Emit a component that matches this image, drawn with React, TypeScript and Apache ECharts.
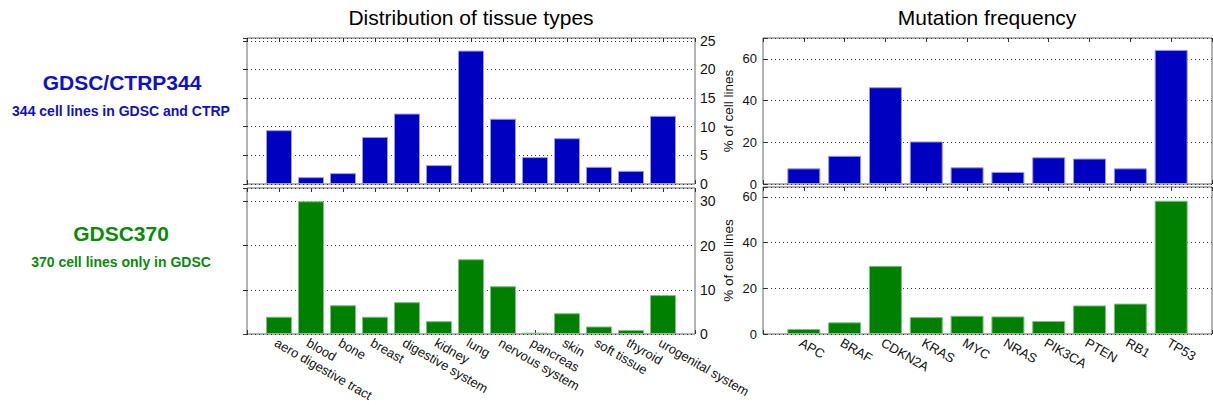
import React, { useEffect, useRef } from "react";
import * as echarts from "echarts";

const tissueTypes = [
  "aero digestive tract", "blood", "bone", "breast", "digestive system", "kidney",
  "lung", "nervous system", "pancreas", "skin", "soft tissue", "thyroid", "urogenital system",
];
const tissueCTRP344 = [9.4, 1.2, 1.9, 8.2, 12.3, 3.3, 23.3, 11.4, 4.7, 8.0, 3.0, 2.3, 11.9];
const tissueGDSC370 = [3.9, 30.0, 6.5, 3.9, 7.2, 2.9, 16.9, 10.8, 0.3, 4.7, 1.7, 0.9, 8.8];

const genes = ["APC", "BRAF", "CDKN2A", "KRAS", "MYC", "NRAS", "PIK3CA", "PTEN", "RB1", "TP53"];
const mutCTRP344 = [7.5, 13.5, 46.4, 20.4, 8.0, 5.8, 12.8, 12.2, 7.5, 64.3];
const mutGDSC370 = [2.2, 5.1, 29.8, 7.4, 8.0, 7.7, 5.7, 12.5, 13.3, 58.3];

const BLUE = "#0000C0";
const GREEN = "#008000";
const FONT = "'Liberation Sans', Arial, Helvetica, sans-serif";

export default function App() {
  const ref = useRef<HTMLDivElement>(null);
  useEffect(() => {
    if (!ref.current) return;
    const chart = echarts.init(ref.current, undefined, { renderer: "svg" });

    const grids = [
      { left: 247, top: 38, width: 448, height: 146 },
      { left: 247, top: 188, width: 448, height: 146 },
      { left: 763, top: 38, width: 449, height: 146 },
      { left: 763, top: 187, width: 449, height: 147 },
    ];
    const panels = [
      { names: tissueTypes, values: tissueCTRP344, max: 25.5, interval: 5, color: BLUE, edge: "#9a9ae8", labels: false, ySide: "right", barW: 26, yFont: 14 },
      { names: tissueTypes, values: tissueGDSC370, max: 33, interval: 10, color: GREEN, edge: "#80c080", labels: true, ySide: "right", barW: 26, yFont: 14 },
      { names: genes, values: mutCTRP344, max: 70, interval: 20, color: BLUE, edge: "#9a9ae8", labels: false, ySide: "left", barW: 33, yFont: 13 },
      { names: genes, values: mutGDSC370, max: 64.3, interval: 20, color: GREEN, edge: "#80c080", labels: true, ySide: "left", barW: 33, yFont: 13 },
    ];

    const xAxis: any[] = [];
    const yAxis: any[] = [];
    const series: any[] = [];
    panels.forEach((p, i) => {
      const n = p.names.length;
      const base = {
        gridIndex: i,
        type: "value",
        min: 0,
        max: n + 1,
        interval: 1,
        axisLine: { show: false },
        axisTick: { show: true, inside: true, length: 4, lineStyle: { color: "#333", width: 1 } },
        splitLine: { show: false },
      };
      xAxis.push({
        ...base,
        position: "bottom",
        axisLabel: {
          show: p.labels,
          rotate: -30,
          align: "left",
          verticalAlign: "top",
          margin: 2,
          fontSize: 13,
          fontFamily: FONT,
          color: "#111",
          formatter: (v: number) => (v >= 1 && v <= n ? p.names[v - 1] : ""),
        },
      });
      xAxis.push({ ...base, position: "top", axisLabel: { show: false } });
      yAxis.push({
        gridIndex: i,
        type: "value",
        position: p.ySide,
        min: 0,
        max: p.max,
        interval: p.interval,
        axisLine: { show: false },
        axisTick: { show: true, inside: true, length: 4, lineStyle: { color: "#333" } },
        splitLine: { show: true, lineStyle: { type: [1, 3], color: "#333", width: 1 } },
        axisLabel: {
          margin: p.ySide === "right" ? 5 : 6,
          fontSize: p.yFont,
          fontFamily: FONT,
          color: "#111",
          formatter: (v: number) => (v % p.interval === 0 ? String(v) : ""),
        },
        name: p.ySide === "left" ? "% of cell lines" : "",
        nameLocation: "middle",
        nameRotate: 90,
        nameGap: 28,
        nameTextStyle: { fontSize: 13.5, fontFamily: FONT, color: "#111" },
      });
      series.push({
        type: "bar",
        xAxisIndex: i * 2,
        yAxisIndex: i,
        barWidth: p.barW,
        itemStyle: { color: p.color, borderColor: p.edge, borderWidth: 1 },
        data: p.values.map((v, k) => [k + 1, v]),
      });
    });

    chart.setOption({
      animation: false,
      backgroundColor: "#fff",
      grid: grids.map((g) => ({
        ...g,
        outerBoundsMode: "none",
        containLabel: false,
        show: true,
        borderColor: "#666",
        borderWidth: 1,
        backgroundColor: "transparent",
      })),
      xAxis,
      yAxis,
      series,
      graphic: [
        { type: "text", x: 471, y: 17, style: { text: "Distribution of tissue types", fontSize: 21, fontFamily: FONT, fill: "#000", textAlign: "center", textVerticalAlign: "middle" } },
        { type: "text", x: 987, y: 17, style: { text: "Mutation frequency", fontSize: 21, fontFamily: FONT, fill: "#000", textAlign: "center", textVerticalAlign: "middle" } },
        { type: "text", x: 122, y: 82, style: { text: "GDSC/CTRP344", fontSize: 21, fontWeight: "bold", fontFamily: FONT, fill: "#1010C8", textAlign: "center", textVerticalAlign: "middle" } },
        { type: "text", x: 121, y: 111, style: { text: "344 cell lines in GDSC and CTRP", fontSize: 14, fontWeight: "bold", fontFamily: FONT, fill: "#1010C8", textAlign: "center", textVerticalAlign: "middle" } },
        { type: "text", x: 121, y: 233, style: { text: "GDSC370", fontSize: 21, fontWeight: "bold", fontFamily: FONT, fill: "#0A8A0A", textAlign: "center", textVerticalAlign: "middle" } },
        { type: "text", x: 121, y: 262, style: { text: "370 cell lines only in GDSC", fontSize: 14, fontWeight: "bold", fontFamily: FONT, fill: "#0A8A0A", textAlign: "center", textVerticalAlign: "middle" } },
      ],
    });
    return () => chart.dispose();
  }, []);
  return <div ref={ref} style={{ position: "absolute", left: 0, top: 0, width: 1213, height: 405 }} />;
}
